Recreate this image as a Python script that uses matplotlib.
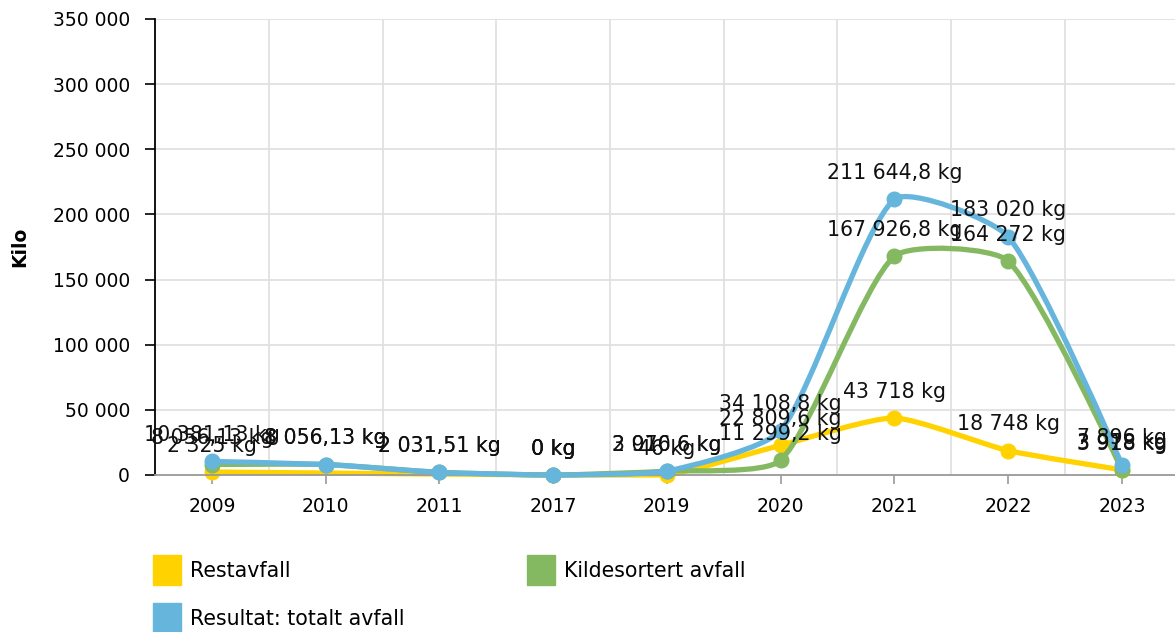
import matplotlib
matplotlib.use("Agg")
import matplotlib.pyplot as plt
from matplotlib.path import Path
import matplotlib.patches as patches
import numpy as np

# Data
years = ["2009", "2010", "2011", "2017", "2019", "2020", "2021", "2022", "2023"]
restavfall = [2325, None, None, 0, 46, 22809.6, 43718, 18748, 3978]
kildesortert = [8056.13, 8056.13, 2031.51, 0, 2970.6, 11299.2, 167926.8, 164272, 3918]
totalt = [10381.13, 8056.13, 2031.51, 0, 3016.6, 34108.8, 211644.8, 183020, 7896]

series_names = ["Restavfall", "Kildesortert avfall", "Resultat: totalt avfall"]
colors = ["#FFD200", "#84B962", "#66B5DD"]

W, H = 1175, 632
fig = plt.figure(figsize=(W / 100, H / 100), dpi=100)
ax = fig.add_axes([155 / W, 1 - 475 / H, (W - 155) / W, (475 - 19) / H])

step = 113.75
ymax = 350000
ax.set_xlim(-0.5, (W - 155) / step - 0.5)
ax.set_ylim(0, ymax)


def fmt(v):
    s = f"{v:,.2f}".rstrip("0").rstrip(".")
    return s.replace(",", " ").replace(".", ",") + " kg"


def spline_path(xs, ys, sx, sy, tension=0.2):
    # cardinal-style spline (control points from neighbour distances), in pixel space
    p = np.column_stack([np.array(xs) * sx, np.array(ys) * sy])
    n = len(p)
    cp_prev = p.copy()
    cp_next = p.copy()
    for i in range(1, n - 1):
        d01 = np.hypot(*(p[i] - p[i - 1]))
        d12 = np.hypot(*(p[i + 1] - p[i]))
        tot = d01 + d12
        s01 = d01 / tot if tot else 0
        s12 = d12 / tot if tot else 0
        vec = p[i + 1] - p[i - 1]
        cp_prev[i] = p[i] - tension * s01 * vec
        cp_next[i] = p[i] + tension * s12 * vec
    # keep control points inside the plot area
    cp_prev[:, 1] = np.clip(cp_prev[:, 1], 0, ymax * sy)
    cp_next[:, 1] = np.clip(cp_next[:, 1], 0, ymax * sy)
    scale = np.array([sx, sy])
    verts = [tuple(p[0] / scale)]
    codes = [Path.MOVETO]
    for i in range(1, n):
        verts += [tuple(cp_next[i - 1] / scale), tuple(cp_prev[i] / scale),
                  tuple(p[i] / scale)]
        codes += [Path.CURVE4] * 3
    return Path(verts, codes)


sx = step
sy = 456 / ymax

# grid
for v in range(50000, ymax + 1, 50000):
    ax.axhline(v, color="#e0e0e0", lw=1.3, zorder=0)
for i in range(len(years) - 1):
    ax.axvline(i + 0.5, color="#e0e0e0", lw=1.3, zorder=0)

for k, (vals, col) in enumerate(zip([restavfall, kildesortert, totalt], colors)):
    xs = [i for i, v in enumerate(vals) if v is not None]
    ys = [v for v in vals if v is not None]
    path = spline_path(xs, ys, sx, sy)
    ax.add_patch(patches.PathPatch(path, facecolor="none", edgecolor=col,
                                   lw=3.8, capstyle="round", joinstyle="round",
                                   zorder=2 + k, clip_on=False))
    ax.plot(xs, ys, "o", color=col, markersize=10.5, zorder=2 + k, clip_on=False)
    for x, y in zip(xs, ys):
        ax.annotate(fmt(y), (x, y), xytext=(0, 19), textcoords="offset points",
                    ha="center", va="center", fontsize=14.8, color="#111111",
                    zorder=10)

ax.set_xticks(range(len(years)))
ax.set_xticklabels(years)
yt = list(range(0, ymax + 1, 50000))
ax.set_yticks(yt)
ax.set_yticklabels([f"{v:,}".replace(",", " ") for v in yt])
ax.tick_params(axis="y", length=7, width=1.2, pad=11, labelsize=13.5, color="black")
ax.tick_params(axis="x", length=6.5, width=1.2, pad=9, labelsize=13.5, color="#999999")
for s in ["top", "right"]:
    ax.spines[s].set_visible(False)
ax.spines["left"].set_color("black")
ax.spines["left"].set_linewidth(1.3)
ax.spines["bottom"].set_color("#999999")
ax.spines["bottom"].set_linewidth(1.3)
ax.set_ylabel("Kilo", fontsize=13.5, fontweight="bold")
ax.yaxis.set_label_coords(-126 / (W - 155), 0.5)

# legend
legend_pos = [(153, 555), (527, 555), (153, 603)]
for (lx, ly), name, col in zip(legend_pos, series_names, colors):
    fig.add_artist(patches.Rectangle((lx / W, 1 - (ly + 30) / H), 28 / W, 30 / H,
                                     transform=fig.transFigure, color=col))
    fig.text((lx + 37) / W, 1 - (ly + 16) / H, name, fontsize=14.8, va="center",
             ha="left")

fig.savefig("out.png", dpi=100)
